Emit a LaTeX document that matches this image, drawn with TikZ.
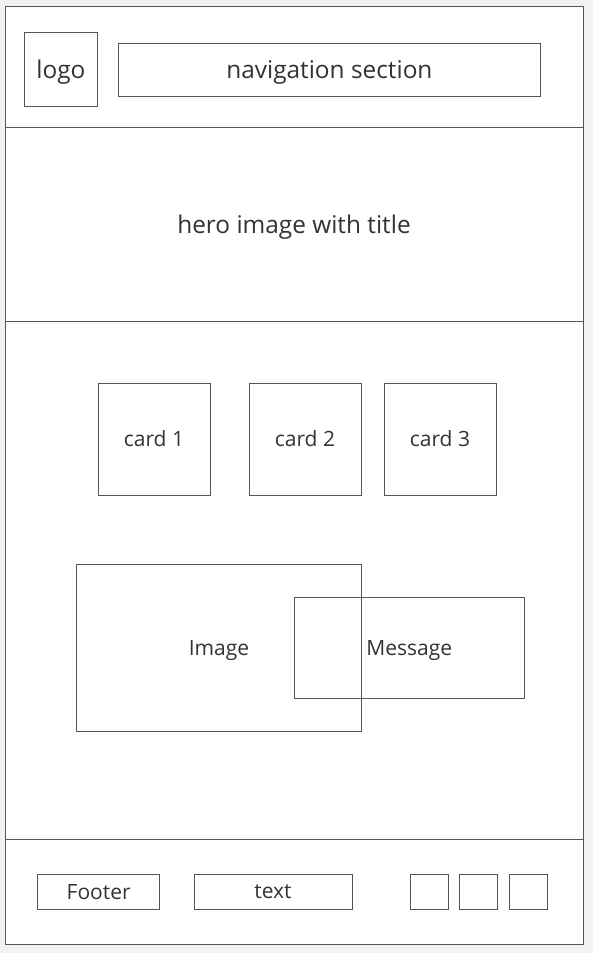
\documentclass[tikz,border=0pt]{standalone}
\usepackage{fontspec}
\setmainfont{Open Sans}
\definecolor{linegray}{HTML}{555555}
\definecolor{textgray}{HTML}{333333}
\definecolor{bggray}{HTML}{F2F2F2}
\begin{document}
\begin{tikzpicture}[x=1pt,y=-1pt]
    \tikzstyle{box} = [rectangle, draw=linegray, line width=0.9pt, inner sep=0pt, text depth=0pt, text=textgray, font=\fontsize{21}{24}\selectfont]
    \tikzstyle{section} = [rectangle, draw=linegray, line width=0.9pt, inner sep=0pt, text depth=0pt, minimum width=578pt, text=textgray, font=\fontsize{24.4}{28}\selectfont]
    \tikzstyle{big} = [font=\fontsize{24.4}{28}\selectfont]

    % page and frame
    \fill [bggray] (0,0) rectangle (593,953);
    \draw [fill=white, draw=linegray, line width=1pt] (5,6) rectangle (583,944);

    % header
    \node (header) [section, draw=none, minimum height=121pt] at (294,66.5) {};
    \node (logo) [box, big, minimum width=73.7pt, minimum height=73.7pt] at (60.9,69.2) {logo};
    \node (nav) [box, big, minimum width=421.3pt, minimum height=52.3pt] at (329.4,69.9) {navigation section};
    \draw [draw=black!80, line width=1.6pt] (header.south west) -- (header.south east);

    % hero
    \node (hero) [section, minimum height=194pt] at (294,224) {hero image with title};

    % cards
    \node (card1) [box, minimum width=112pt, minimum height=112pt] at (154,439) {card 1};
    \node (card2) [box, minimum width=112pt, minimum height=112pt] at (305,439) {card 2};
    \node (card3) [box, minimum width=112pt, minimum height=112pt] at (440,439) {card 3};

    % image with message
    \node (image) [box, minimum width=284.6pt, minimum height=167.7pt] at (219,647.8) {Image};
    \node (message) [box, minimum width=230pt, minimum height=101pt] at (409.3,647.8) {Message};

    % footer
    \node (footer) [section, minimum height=105pt] at (294,891.5) {};
    \node (ftitle) [box, minimum width=121.8pt, minimum height=34.7pt] at (98.7,891.6) {Footer};
    \node (ftext) [box, minimum width=158pt, minimum height=34.7pt] at (273,891.6) {text};
    \foreach \x/\n in {429.3/1, 478.9/2, 528.5/3}
        \node (icon\n) [box, minimum width=38pt, minimum height=34.7pt] at (\x,891.6) {};
\end{tikzpicture}
\end{document}
